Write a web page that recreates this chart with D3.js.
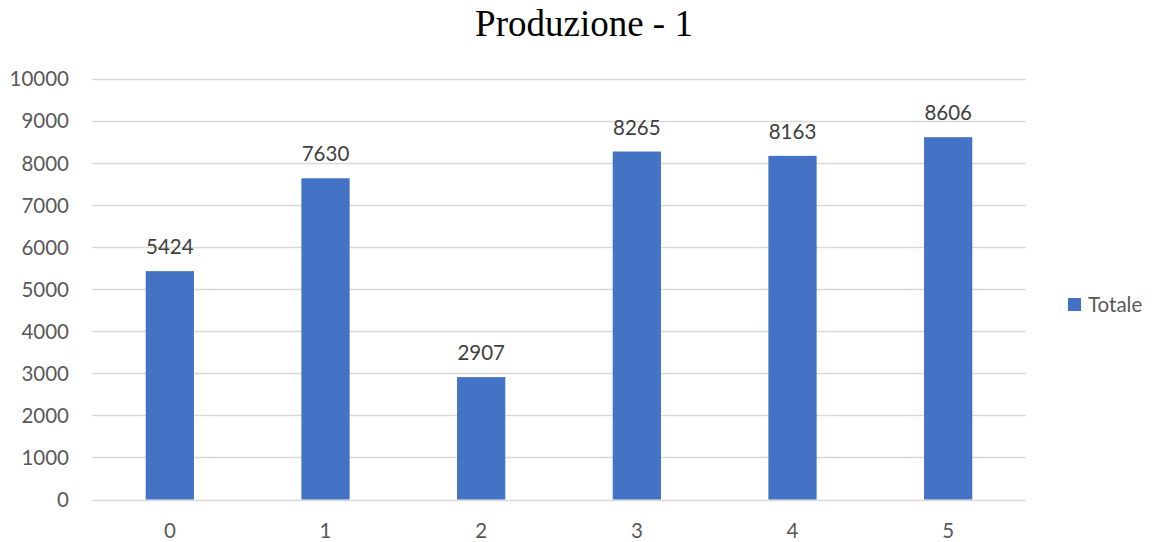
<!DOCTYPE html>
<html>
<head>
<meta charset="utf-8">
<script src="https://cdn.jsdelivr.net/npm/d3@7"></script>
<style>
  html, body { margin: 0; padding: 0; background: #fff; }
  svg { display: block; }
</style>
</head>
<body>
<svg id="chart" width="1152" height="542"></svg>
<script>
// Production totals per category
const categories = ["0", "1", "2", "3", "4", "5"];
const totals = [5424, 7630, 2907, 8265, 8163, 8606];
const yTicks = [0, 1000, 2000, 3000, 4000, 5000, 6000, 7000, 8000, 9000, 10000];
const seriesName = "Totale";
const chartTitle = "Produzione - 1";

const svg = d3.select("#chart");
const margin = { left: 92, right: 1026, top: 78.5, bottom: 499.5 };
const labelFont = "Lato, 'Open Sans', sans-serif";
const labelSize = "20.5px";
const textColor = "#595959";
const barColor = "#4472C4";

const x = d3.scaleBand()
  .domain(categories)
  .range([margin.left, margin.right])
  .paddingInner(0.69)
  .paddingOuter(0.345);

const y = d3.scaleLinear()
  .domain([0, 10000])
  .range([margin.bottom, margin.top]);

// Title
svg.append("text")
  .attr("x", 584)
  .attr("y", 36)
  .attr("text-anchor", "middle")
  .style("font-family", "'Liberation Serif', 'Times New Roman', serif")
  .style("font-size", "37px")
  .attr("fill", "#000")
  .text(chartTitle);

// Horizontal gridlines
svg.append("g")
  .selectAll("line")
  .data(yTicks)
  .join("line")
  .attr("x1", margin.left)
  .attr("x2", margin.right)
  .attr("y1", d => Math.round(y(d)) + 0.5)
  .attr("y2", d => Math.round(y(d)) + 0.5)
  .attr("stroke", "#d9d9d9")
  .attr("stroke-width", 1.3);

// Y axis labels
const yAxis = d3.axisLeft(y).tickValues(yTicks).tickSize(0).tickPadding(0).tickFormat(d3.format("d"));
const yg = svg.append("g").attr("transform", `translate(69,0)`).call(yAxis);
yg.select(".domain").remove();
yg.selectAll("text")
  .attr("dy", "0.36em")
  .style("font-family", labelFont)
  .style("font-size", labelSize)
  .attr("fill", textColor);

// X axis labels
const xAxis = d3.axisBottom(x).tickSize(0).tickPadding(0);
const xg = svg.append("g").attr("transform", `translate(0,${margin.bottom})`).call(xAxis);
xg.select(".domain").remove();
xg.selectAll("text")
  .attr("y", 38)
  .attr("dy", null)
  .style("font-family", labelFont)
  .style("font-size", labelSize)
  .attr("fill", textColor);

// Bars
svg.append("g")
  .selectAll("rect")
  .data(totals)
  .join("rect")
  .attr("x", (d, i) => x(categories[i]))
  .attr("width", x.bandwidth())
  .attr("y", d => y(d))
  .attr("height", d => y(0) - y(d))
  .attr("fill", barColor);

// Value labels
svg.append("g")
  .selectAll("text")
  .data(totals)
  .join("text")
  .attr("x", (d, i) => x(categories[i]) + x.bandwidth() / 2)
  .attr("y", d => y(d) - 17)
  .attr("text-anchor", "middle")
  .style("font-family", labelFont)
  .style("font-size", labelSize)
  .attr("fill", "#404040")
  .text(d => d);

// Legend
const legend = svg.append("g").attr("transform", "translate(1068,298)");
legend.append("rect")
  .attr("width", 13)
  .attr("height", 13)
  .attr("fill", barColor);
legend.append("text")
  .attr("x", 20)
  .attr("y", 14)
  .style("font-family", labelFont)
  .style("font-size", labelSize)
  .attr("fill", textColor)
  .text(seriesName);
</script>
</body>
</html>
